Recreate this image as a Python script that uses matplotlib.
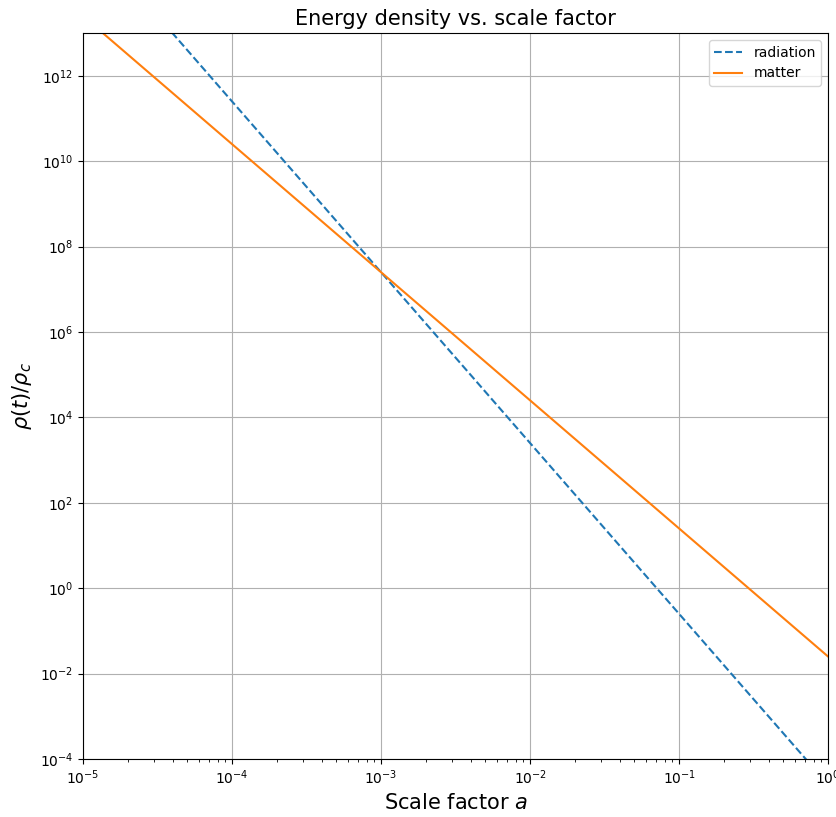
import matplotlib
matplotlib.use("Agg")
import matplotlib.pyplot as plt

# scale factor sample points (decades) and densities
scale_factor = [1e-5, 1e-4, 1e-3, 1e-2, 1e-1, 1.0]
radiation = [2.5e15, 2.5e11, 2.5e7, 2.5e3, 2.5e-1, 2.5e-5]
matter = [2.5e13, 2.5e10, 2.5e7, 2.5e4, 2.5e1, 2.5e-2]

fig = plt.figure(figsize=(8.36, 8.17), dpi=100)
ax = fig.add_axes([0.0993, 0.071, 0.8913, 0.8886])

ax.loglog(scale_factor, radiation, "--", label="radiation")
ax.loglog(scale_factor, matter, "-", label="matter")

ax.set_xlim(1e-5, 1)
ax.set_ylim(1e-4, 1e13)
ax.grid(True, which="major")

ax.set_title("Energy density vs. scale factor", fontsize=15)
ax.set_xlabel("Scale factor $a$", fontsize=15)
ax.set_ylabel(r"$\rho(t)/\rho_c$", fontsize=15)
ax.legend(loc="upper right")

fig.savefig("out.png", dpi=100)
